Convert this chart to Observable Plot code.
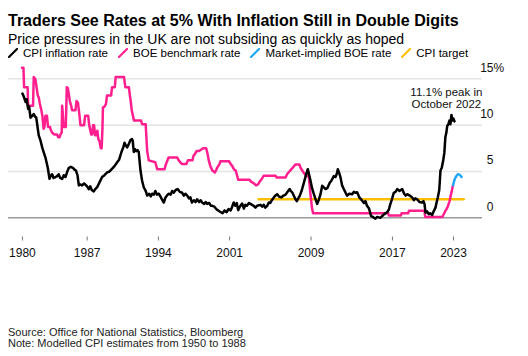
<!DOCTYPE html>
<html><head><meta charset="utf-8">
<script src="https://cdn.jsdelivr.net/npm/d3@7"></script>
<script src="https://cdn.jsdelivr.net/npm/@observablehq/plot@0.6"></script>
<style>
body{margin:0;background:#fff;font-family:"Liberation Sans",Arial,sans-serif;color:#000;width:528px;height:356px;position:relative;overflow:hidden}
#title{position:absolute;left:8px;top:12.5px;font-weight:bold;font-size:16px;line-height:16px;white-space:nowrap}
#sub{position:absolute;left:8px;top:31.5px;font-size:14px;line-height:14px;white-space:nowrap}
#legend{position:absolute;left:8px;top:47.3px;font-size:11.5px;line-height:12px;white-space:nowrap;display:flex}
#legend .it{display:flex;align-items:center;margin-right:10px}
#legend svg{margin-right:5px}
#chart{position:absolute;left:0;top:58px}
#foot{position:absolute;left:8px;top:326.7px;font-size:11px;line-height:11px;color:#222;white-space:nowrap}
</style></head>
<body>
<div id="title">Traders See Rates at 5% With Inflation Still in Double Digits</div>
<div id="sub">Price pressures in the UK are not subsiding as quickly as hoped</div>
<div id="legend"></div>
<div id="chart"></div>
<div id="foot">Source: Office for National Statistics, Bloomberg<br>Note: Modelled CPI estimates from 1950 to 1988</div>
<script>
// ---- data (decimal years) ----
const seriesNames = ["CPI inflation rate", "BOE benchmark rate", "Market-implied BOE rate", "CPI target"];
const seriesColors = ["#000000", "#ff1f8f", "#1ea7f2", "#ffbf00"];

const cpiYears = [1980.64,1980.8,1980.94,1981.05,1981.2,1981.3,1981.43,1981.6,1981.75,1981.9,1982.0,1982.24,1982.4,1982.58,1982.75,1982.9,1983.13,1983.3,1983.45,1983.56,1983.7,1983.9,1984.05,1984.2,1984.35,1984.54,1984.7,1984.87,1985.05,1985.2,1985.4,1985.6,1985.75,1985.9,1986.05,1986.18,1986.35,1986.5,1986.7,1986.9,1987.05,1987.16,1987.3,1987.45,1987.65,1987.8,1987.98,1988.2,1988.47,1988.7,1988.97,1989.2,1989.46,1989.7,1989.95,1990.15,1990.37,1990.55,1990.67,1990.8,1990.93,1991.1,1991.26,1991.4,1991.48,1991.58,1991.7,1991.82,1991.95,1992.07,1992.24,1992.4,1992.56,1992.75,1992.9,1993.1,1993.25,1993.39,1993.55,1993.7,1993.85,1994.04,1994.2,1994.35,1994.53,1994.7,1994.85,1995.0,1995.2,1995.35,1995.5,1995.7,1995.9,1996.1,1996.34,1996.5,1996.65,1996.83,1997.0,1997.15,1997.3,1997.5,1997.65,1997.8,1998.0,1998.15,1998.3,1998.5,1998.65,1998.8,1999.0,1999.15,1999.3,1999.5,1999.65,1999.78,2000.0,2000.15,2000.3,2000.5,2000.7,2000.9,2001.1,2001.25,2001.4,2001.55,2001.7,2001.84,2002.0,2002.23,2002.4,2002.55,2002.7,2002.9,2003.05,2003.2,2003.35,2003.54,2003.7,2004.03,2004.2,2004.35,2004.5,2004.7,2004.85,2005.0,2005.15,2005.34,2005.5,2005.67,2005.85,2006.07,2006.3,2006.5,2006.66,2006.9,2007.0,2007.15,2007.3,2007.47,2007.6,2007.75,2007.9,2008.1,2008.3,2008.5,2008.68,2008.8,2008.95,2009.1,2009.28,2009.45,2009.6,2009.75,2009.93,2010.1,2010.25,2010.42,2010.6,2010.85,2011.0,2011.24,2011.4,2011.55,2011.63,2011.75,2011.9,2012.05,2012.22,2012.4,2012.55,2012.75,2013.04,2013.2,2013.35,2013.53,2013.75,2014.03,2014.2,2014.35,2014.5,2014.7,2014.9,2015.05,2015.2,2015.33,2015.5,2015.66,2015.8,2016.0,2016.2,2016.48,2016.65,2016.8,2016.95,2017.13,2017.3,2017.47,2017.7,2017.96,2018.15,2018.3,2018.45,2018.7,2018.94,2019.1,2019.25,2019.43,2019.65,2019.92,2020.05,2020.15,2020.25,2020.4,2020.57,2020.7,2020.9,2021.05,2021.23,2021.35,2021.46,2021.6,2021.72,2021.85,2021.99,2022.1,2022.2,2022.3,2022.38,2022.5,2022.6,2022.7,2022.8,2022.9,2023.0,2023.1];
const cpiValues = [13.4,13.0,12.5,12.8,11.75,12.0,10.8,11.0,11.2,10.9,10.8,8.9,8.4,7.6,7.0,6.5,5.4,4.2,4.6,4.7,4.3,4.4,4.5,4.7,4.3,4.2,4.6,4.4,5.0,5.4,5.5,5.4,5.2,5.1,4.6,3.5,3.6,3.5,3.7,3.5,3.3,3.1,3.4,3.0,2.85,3.1,3.3,3.8,4.4,4.6,4.9,5.0,5.3,5.6,6.0,6.3,7.1,7.6,8.1,7.8,7.6,8.0,8.4,8.5,8.3,7.1,7.4,7.2,7.3,7.1,5.1,4.0,3.3,2.9,2.4,2.6,2.3,2.6,2.5,2.9,2.5,2.6,2.3,2.0,1.65,2.2,2.4,2.6,2.5,2.9,2.7,3.0,3.1,2.8,2.7,2.4,2.6,2.4,2.1,2.2,1.65,1.9,1.7,2.0,1.7,1.9,1.65,1.5,1.7,1.5,1.6,1.3,1.3,1.2,1.0,0.86,0.7,0.6,0.5,0.8,0.6,0.95,0.8,1.2,1.65,1.3,1.6,0.83,1.2,1.55,1.0,1.4,1.3,1.6,1.5,1.4,1.3,1.1,1.3,1.4,1.2,1.4,1.1,1.3,1.65,1.6,1.9,2.2,2.4,2.55,2.3,2.2,2.4,2.5,2.75,3.1,2.9,2.75,2.4,2.0,1.8,2.1,2.4,3.0,3.8,4.6,5.25,4.7,4.0,3.2,2.55,2.0,1.5,1.9,2.55,3.45,3.3,3.1,3.2,3.8,4.0,4.5,4.4,4.8,5.25,4.9,4.35,3.5,3.1,2.7,2.4,2.6,2.55,2.8,2.7,2.75,2.2,1.85,1.6,1.8,1.3,1.0,0.2,0.1,0.0,-0.1,0.1,0.05,0.0,0.2,0.4,0.6,0.9,1.5,2.0,2.7,2.8,3.1,2.9,3.1,2.6,2.4,2.55,2.4,2.2,1.9,2.1,2.0,1.7,1.65,1.8,1.5,0.55,0.7,0.4,0.5,0.3,0.7,1.1,1.7,2.2,3.0,5.1,5.4,6.2,7.0,8.7,9.2,9.9,10.1,10.5,10.1,11.1,10.5,10.7,10.4];

const boeYears = [1980.6,1980.74,1980.8,1981.15,1981.2,1981.68,1981.75,1981.9,1982.0,1982.15,1982.24,1982.35,1982.5,1982.6,1982.72,1982.8,1982.9,1983.05,1983.15,1983.35,1983.42,1983.55,1983.75,1984.05,1984.15,1984.3,1984.38,1984.5,1984.54,1984.62,1984.68,1984.9,1985.0,1985.1,1985.3,1985.45,1985.52,1985.85,1985.95,1986.1,1986.25,1986.34,1986.7,1986.8,1987.1,1987.2,1987.4,1987.5,1987.58,1987.68,1987.78,1987.9,1988.0,1988.1,1988.2,1988.34,1988.42,1988.5,1988.55,1988.7,1988.85,1988.95,1989.35,1989.45,1989.72,1989.8,1990.62,1990.75,1991.1,1991.2,1991.28,1991.38,1991.5,1991.6,1992.3,1992.4,1992.75,1992.9,1993.05,1993.7,1993.88,1994.6,1994.75,1995.0,1995.85,1996.0,1996.3,1996.75,1996.9,1997.35,1997.45,1997.6,1997.75,1998.0,1998.4,1998.7,1998.85,1998.95,1999.1,1999.3,1999.55,1999.7,1999.8,2000.0,2000.1,2000.95,2001.1,2001.25,2001.45,2001.6,2001.7,2001.85,2002.95,2003.1,2003.4,2003.6,2003.8,2003.95,2004.1,2004.36,2005.5,2005.62,2006.5,2006.66,2006.95,2007.25,2007.45,2007.85,2007.98,2008.25,2008.5,2008.78,2008.9,2009.0,2009.1,2009.2,2016.58,2016.65,2017.83,2017.9,2018.55,2018.62,2020.15,2020.22,2021.92,2021.97,2022.1,2022.2,2022.35,2022.45,2022.6,2022.7,2022.85,2022.95];
const boeValues = [16.2,16.2,14.1,14.1,12.1,12.1,15.2,15.0,14.3,13.2,13.0,12.3,11.6,11.0,9.6,9.8,11.0,11.0,9.8,9.8,9.5,9.2,9.0,9.0,8.7,8.7,9.0,9.2,12.1,11.0,9.8,9.8,14.1,14.0,12.6,12.0,11.6,11.6,12.6,12.4,11.0,10.0,10.0,11.0,11.0,10.0,9.0,9.0,10.0,10.0,8.9,8.9,9.4,8.5,8.3,7.5,7.5,9.5,11.9,12.0,12.3,13.2,13.2,14.1,14.1,15.2,15.2,14.1,14.1,13.2,12.6,11.6,11.0,10.5,10.5,10.1,10.1,7.2,6.2,6.0,5.25,5.25,5.8,6.5,6.5,6.2,5.8,5.8,6.2,6.2,6.7,6.9,7.2,7.2,7.5,7.5,6.8,6.2,5.6,5.1,4.9,5.2,5.45,5.8,6.1,6.1,5.8,5.6,5.2,5.1,4.7,4.1,4.1,3.9,3.7,3.5,3.6,3.9,4.1,4.55,4.55,4.35,4.35,4.72,5.1,5.46,5.75,5.75,5.37,4.92,4.55,4.5,3.0,2.0,1.0,0.5,0.5,0.25,0.25,0.5,0.5,0.75,0.75,0.1,0.1,0.25,0.5,0.75,1.0,1.25,1.75,2.25,3.0,3.5];

const mktYears = [2022.95,2023.1,2023.25,2023.45,2023.6,2023.8];
const mktValues = [3.5,4.1,4.45,4.7,4.65,4.4];

const targetYears = [2003.85,2024.0];
const targetValues = [2,2];

const xTicks = [1980.64,1987,1994,2001,2009,2017,2023];
const yTicks = [0,5,10,15];
const annoX = [2022.3], annoY = [12.87], annoText = ["11.1% peak in\nOctober 2022"];

const toRows = (xs, vs) => xs.map((x, i) => ({x, v: vs[i]}));
const cpi = toRows(cpiYears, cpiValues);
const boe = toRows(boeYears, boeValues);
const mkt = toRows(mktYears, mktValues);
const target = toRows(targetYears, targetValues);

// legend
const lg = document.getElementById("legend");
seriesNames.forEach((n, i) => {
  const it = document.createElement("div"); it.className = "it";
  it.innerHTML = `<svg width="10" height="10"><line x1="1" y1="9" x2="9" y2="1" stroke="${seriesColors[i]}" stroke-width="2.2" stroke-linecap="round"/></svg><span>${n}</span>`;
  lg.appendChild(it);
});

const xDomain = [1979.27, 2025.85];
const chart = Plot.plot({
  width: 528, height: 210,
  marginLeft: 8, marginRight: 46, marginTop: 5, marginBottom: 31.5,
  style: {fontFamily: '"Liberation Sans", Arial, sans-serif', fontSize: "12px", color: "#000", background: "transparent", overflow: "visible"},
  x: {domain: xDomain, axis: null},
  y: {domain: [-2.07, 16.65], axis: null},
  marks: [
    Plot.ruleY([5, 10, 15], {stroke: "#e4e4e4", strokeWidth: 1.5}),
    Plot.ruleY([0], {stroke: "#9a9a9a", strokeWidth: 1.5}),
    Plot.axisX(xTicks, {label: null, tickSize: 4, tickPadding: 7, stroke: "#777", fill: "#111", fontSize: 12, tickFormat: d => String(Math.floor(d))}),
    Plot.axisY(yTicks, {label: null, anchor: "right", tickSize: 0, tickPadding: 11, textAnchor: "end", dy: -11, fontSize: 12, fill: "#111", tickFormat: d => String(d)}),
    Plot.text([15], {x: () => xDomain[1], y: d => d, text: () => "%", dx: 11, dy: -11, textAnchor: "start", fontSize: 12, fill: "#111"}),
    Plot.line(target, {x: "x", y: "v", stroke: seriesColors[3], strokeWidth: 2.5}),
    Plot.line(boe, {x: "x", y: "v", stroke: seriesColors[1], strokeWidth: 2.5, strokeLinejoin: "round"}),
    Plot.line(mkt, {x: "x", y: "v", stroke: seriesColors[2], strokeWidth: 2.5, curve: "monotone-x"}),
    Plot.line(cpi, {x: "x", y: "v", stroke: seriesColors[0], strokeWidth: 2.5, strokeLinejoin: "round"}),
    Plot.text(annoText, {x: (d, i) => annoX[i], y: (d, i) => annoY[i], text: d => d, fontSize: 11.5, lineHeight: 1.0, fill: "#111"})
  ]
});
document.getElementById("chart").appendChild(chart);
</script>
</body></html>
